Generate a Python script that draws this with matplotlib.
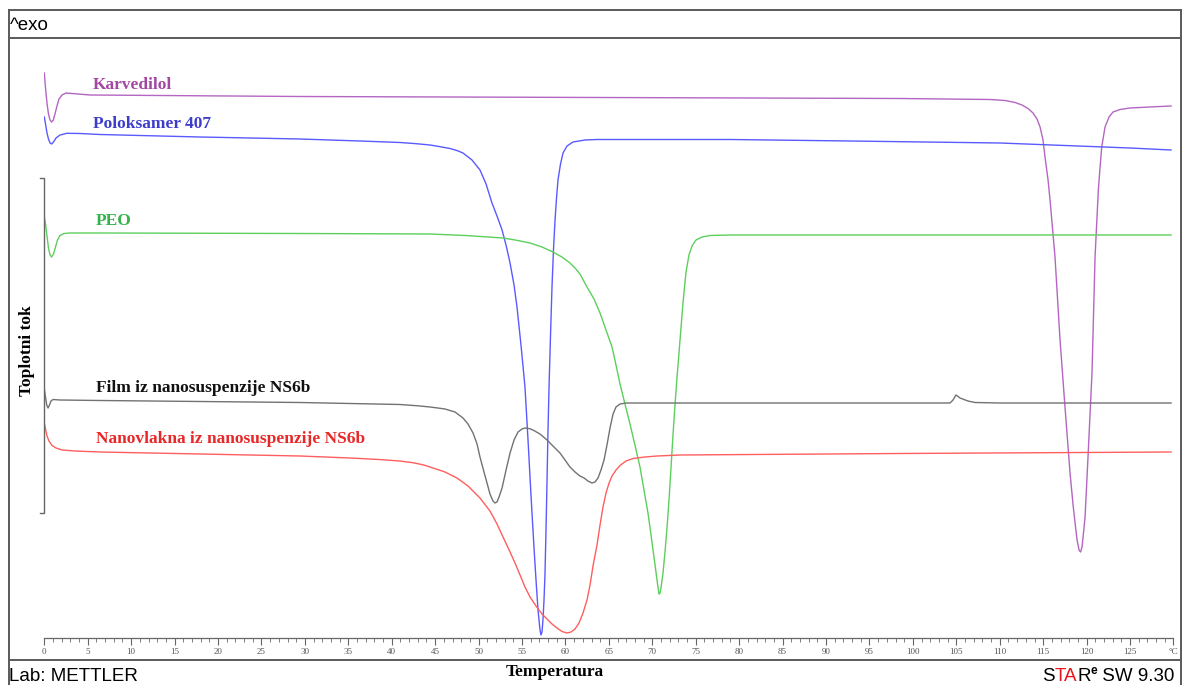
# DSC termogrami: karvedilol, poloksamer 407, PEO, film i nanovlakna

import matplotlib
matplotlib.use("Agg")
import matplotlib.pyplot as plt
import numpy as np

# temperatura (°C) i signal (ocitano sa slike, veca vrijednost = nize na grafu)
karv_T = [0.0, 0.14, 0.31, 0.48, 0.66, 0.85, 1.04, 1.23, 1.46, 1.69, 2.04, 2.5, 3.19, 5.26,
          29.44, 64.0, 98.51, 108.88, 110.6, 111.76, 112.56, 113.25, 113.83, 114.29, 114.64,
          114.98, 115.21, 115.56, 115.79, 116.36, 116.94, 117.51, 118.09, 118.44, 118.67,
          118.9, 119.13, 119.3, 119.47, 119.64, 119.82, 120.16, 120.62, 120.97, 121.35,
          121.54, 121.74, 122.12, 122.58, 123.04, 123.84, 124.99, 127.29, 129.72]
karv_y = [73, 88, 103, 114, 120, 122, 120, 114, 106, 99, 95, 93, 93.5, 95,
          96.5, 97.5, 98.5, 99.5, 100.5, 102.5, 105, 108.5, 113, 119, 127,
          140, 157, 180, 200, 257, 340, 407, 473, 505, 523,
          540, 550, 552, 547, 533, 517, 457, 373, 257, 190,
          168, 147, 127, 117, 112, 109.5, 108, 107, 106]

polo_T = [0.0, 0.14, 0.31, 0.48, 0.66, 0.85, 1.06, 1.35, 1.81, 2.58, 4.11, 6.41, 17.93, 29.44,
          36.35, 40.95, 42.7, 44.41, 45.5, 46.7, 47.5, 48.2, 49.24, 50.16, 50.86, 51.54, 52.12,
          52.7, 53.16, 53.62, 54.08, 54.42, 54.88, 55.34, 55.69, 56.03, 56.38, 56.61, 56.84,
          57.07, 57.18, 57.3, 57.41, 57.53, 57.64, 57.76, 57.88, 57.99, 58.11, 58.28, 58.45,
          58.62, 58.8, 58.97, 59.14, 59.43, 59.72, 60.18, 60.87, 62.25, 63.63, 78.94, 92.75,
          110.03, 124.99, 129.72]
polo_y = [117, 124, 133, 139, 143, 144, 142, 138, 135, 133.3, 133.5, 134.5, 137, 139,
          141, 142.5, 143.6, 145, 146.6, 148.5, 150.5, 153, 160, 170, 184, 203, 216,
          230, 245, 263, 285, 307, 345, 387, 440, 495, 548, 580, 610,
          630, 635, 632, 620, 600, 575, 530, 480, 430, 387, 335, 287,
          250, 220, 198, 180, 164, 153, 146, 142, 140, 139.5, 139.5, 141,
          143, 148, 150]

peo_T = [0.0, 0.14, 0.31, 0.48, 0.66, 0.85, 1.06, 1.29, 1.52, 1.81, 2.27, 2.96, 6.41, 29.44,
         44.41, 48.5, 52.81, 54.4, 55.92, 57.3, 58.56, 59.6, 60.52, 61.1, 61.67, 62.48, 63.29,
         63.98, 64.67, 65.36, 65.82, 66.28, 66.85, 67.43, 68.0, 68.58, 69.04, 69.5, 69.85,
         70.19, 70.42, 70.6, 70.77, 70.89, 71.0, 71.23, 71.46, 71.69, 71.92, 72.15, 72.38,
         72.61, 72.84, 73.19, 73.53, 73.88, 74.22, 74.57, 75.03, 75.72, 76.64, 78.94, 129.72]
peo_y = [217, 224, 236, 248, 255, 257, 254, 247, 240, 235.5, 233.5, 233, 233, 233.5,
         234, 235.5, 238, 240.3, 243, 247, 252, 257, 263, 268, 274, 287, 299,
         313, 330, 347, 365, 384, 404, 424, 445, 467, 490, 513, 535,
         557, 572, 584, 594, 593, 588, 573, 552, 528, 500, 468, 435,
         405, 378, 340, 303, 272, 255, 246, 240, 237, 235.5, 235, 235]

film_T = [0.0, 0.14, 0.28, 0.43, 0.6, 0.77, 1.0, 1.81, 6.41, 29.44, 40.95, 43.0, 44.41, 45.3,
          46.13, 47.29, 48.2, 48.78, 49.36, 49.82, 50.16, 50.62, 50.97, 51.31, 51.66, 51.89,
          52.12, 52.35, 52.7, 53.16, 53.62, 54.08, 54.54, 55.0, 55.34, 55.8, 56.26, 57.07,
          57.88, 58.56, 59.37, 59.95, 60.52, 61.1, 61.67, 62.14, 62.59, 63.06, 63.4, 63.75,
          64.09, 64.44, 64.78, 65.13, 65.48, 65.82, 66.28, 66.97, 73.19, 104.27, 104.62,
          104.96, 105.19, 105.42, 105.88, 106.34, 107.15, 110.03, 129.72]
film_y = [389, 397, 405, 408, 405, 401, 399.5, 400, 400.5, 402.5, 404.5, 405.8, 407, 408,
          409, 412, 418, 424, 433, 444, 457, 472, 483, 494, 501, 503,
          502, 497, 488, 470, 453, 440, 432, 429, 428, 428.5, 430, 434,
          440, 446, 453, 460, 467, 472, 476, 478, 481, 483, 482, 478,
          470, 460, 445, 428, 414, 407, 404, 403, 403, 403, 400,
          395, 396.5, 398, 399.5, 401, 402.5, 403, 403]

nano_T = [0.0, 0.14, 0.31, 0.54, 0.89, 1.35, 2.04, 3.53, 6.41, 17.93, 29.44, 35.2, 38.5,
          40.95, 42.5, 43.6, 44.41, 46.13, 47.51, 48.78, 50.16, 51.31, 52.12, 52.92, 53.62,
          54.19, 54.77, 55.34, 55.92, 56.61, 57.3, 57.88, 58.45, 59.03, 59.6, 60.18, 60.64,
          61.1, 61.56, 62.02, 62.48, 62.83, 63.17, 63.63, 63.98, 64.32, 64.67, 65.02, 65.36,
          65.82, 66.28, 66.97, 67.78, 69.16, 70.54, 73.19, 98.51, 129.72]
nano_y = [423, 429, 436, 441, 445.5, 448, 450, 451, 452, 454, 456, 458, 459.5,
          461, 462.8, 464.8, 467, 472, 478, 486, 498, 511, 524, 539, 552,
          563, 575, 587, 597, 606, 614, 619, 624, 628, 631.5, 633, 632,
          629, 623, 613, 600, 585, 566, 545, 525, 507, 493, 483, 476,
          470, 465.5, 461, 458.5, 457, 456, 455, 453.5, 452]

names = ["Karvedilol", "Poloksamer 407", "PEO", "Film iz nanosuspenzije NS6b",
         "Nanovlakna iz nanosuspenzije NS6b"]
line_colors = ["#b466c2", "#5a5aff", "#5ccf5c", "#727272", "#ff5e5e"]
text_colors = ["#a347a3", "#3d3dcc", "#34b34a", "#111111", "#e82828"]
label_xy = [(93, 89), (93, 127.5), (96, 225), (96, 391.5), (96, 443)]

ticks = list(range(0, 131, 5))
tick_labels = [str(t) for t in ticks[:-1]] + ["°C"]

W, H = 1182, 685
fig = plt.figure(figsize=(W / 100, H / 100), dpi=100)

# okvir i tekstovi u pikselima
bg = fig.add_axes([0, 0, 1, 1])
bg.set_xlim(0, W)
bg.set_ylim(H, 0)
bg.axis("off")
fc = "#5a5a5a"
for yy in [10, 38, 660]:
    bg.plot([9, 1181], [yy, yy], color=fc, lw=1.4)
for xx in [9, 1181]:
    bg.plot([xx, xx], [10, H], color=fc, lw=1.4)

sans = "Liberation Sans"
bg.text(10, 25, "^exo", fontsize=13.5, family=sans, va="center", ha="left")
bg.text(9, 681, "Lab: METTLER", fontsize=13.5, family=sans, va="baseline", ha="left")
bg.text(555, 672, "Temperatura", fontsize=12.5, family="Liberation Serif", weight="bold",
        va="center", ha="center")
bg.text(27, 351, "Toplotni tok", fontsize=12.5, family="Liberation Serif", weight="bold",
        va="center", ha="center", rotation=90)

# STARe SW 9.30
t1 = bg.text(1042, 681, "S", fontsize=13.5, family=sans, va="baseline", ha="left")
t2 = bg.annotate("TA", xy=(1, 0), xycoords=t1, fontsize=13.5, family=sans,
                 color="#e8141e", va="bottom", ha="left")
t3 = bg.annotate("R", xy=(1, 0), xycoords=t2, fontsize=13.5, family=sans,
                 va="bottom", ha="left")
t4 = bg.annotate("e", xy=(1, 0.5), xycoords=t3, fontsize=8.5, family=sans,
                 weight="bold", va="bottom", ha="left")
bg.annotate(" SW 9.30", xy=(1, 0), xycoords=(t4, t3), fontsize=13.5, family=sans,
            va="bottom", ha="left")

for name, c, (lx, ly) in zip(names, text_colors, label_xy):
    bg.text(lx, ly, name, fontsize=12.5, family="Liberation Serif", weight="bold",
            color=c, va="baseline", ha="left")

# glavni graf
x0, px = 44.3, 8.686
ax = fig.add_axes([x0 / W, (H - 638) / H, 130 * px / W, (638 - 40) / H])
ax.patch.set_visible(False)
ax.set_xlim(0, 130)
ax.set_ylim(638, 40)

series = [(karv_T, karv_y), (polo_T, polo_y), (peo_T, peo_y), (film_T, film_y), (nano_T, nano_y)]
for (T, y), c in zip(series, line_colors):
    ax.plot(T, y, color=c, lw=1.0, solid_joinstyle="round")

# zagrada na y osi
ax.plot([-0.45, 0, 0, -0.45], [178, 178, 513, 513], color="#666666", lw=1.0, clip_on=False)

for s in ["left", "top", "right"]:
    ax.spines[s].set_visible(False)
ax.spines["bottom"].set_color("#666666")
ax.spines["bottom"].set_linewidth(0.9)
ax.set_yticks([])
ax.set_xticks(ticks)
ax.set_xticks(np.arange(0, 131, 1), minor=True)
ax.set_xticklabels(tick_labels, family="Liberation Serif", fontsize=6.5, color="#555555")
ax.tick_params(axis="x", which="major", length=5, width=0.8, color="#666666", pad=2)
ax.tick_params(axis="x", which="minor", length=3, width=0.6, color="#666666")

fig.savefig("out.png", dpi=100)
